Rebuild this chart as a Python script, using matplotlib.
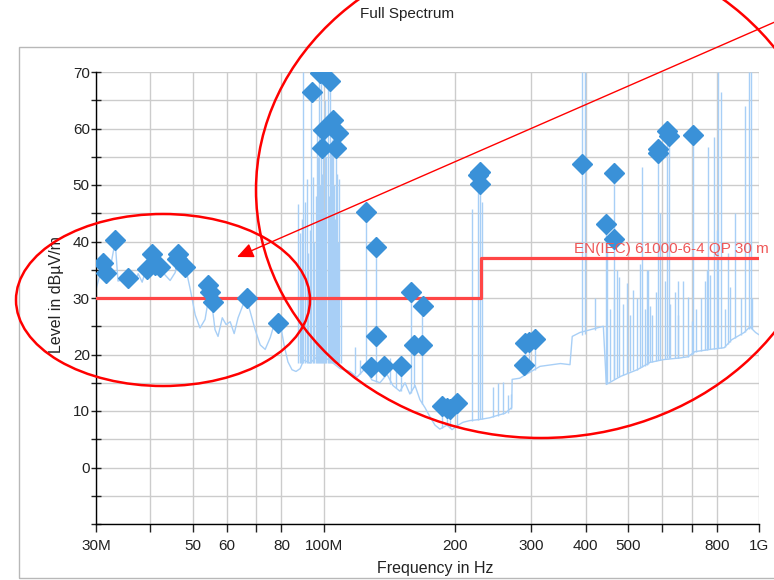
import matplotlib
matplotlib.use("Agg")
import matplotlib.pyplot as plt
from matplotlib.patches import Ellipse, FancyArrowPatch, Rectangle
from matplotlib.ticker import NullLocator

plt.rcParams['font.family'] = ['Liberation Sans', 'DejaVu Sans']

# spectrum floor (MHz, dBuV/m)
floor_f = [30.0, 30.6, 31.1, 31.6, 32.3, 33.2, 33.7, 34.4, 35.0, 35.9, 36.9, 37.5, 38.3, 38.9,
           39.5, 40.4, 41.2, 42.1, 43.2, 44.4, 45.6, 46.3, 47.6, 48.3, 49.4, 50.7, 52.0, 53.4,
           54.3, 55.4, 56.3, 57.2, 58.5, 59.7, 61.0, 62.3, 63.6, 65.3, 66.3, 67.8, 69.6, 71.5,
           73.4, 75.4, 77.3, 79.4, 81.1, 82.8, 84.6, 86.4, 88.3, 90.0, 93.0, 98.0, 103.0, 109.1,
           115.0, 119.3, 124.5, 129.1, 134.7, 139.8, 144.3, 149.7, 153.8, 157.8, 162.2, 166.4,
           170.9, 175.4, 180.2, 184.9, 192.0, 197.2, 203.6, 209.0, 216.6, 228.4, 240.7, 250.2,
           261.0, 270.4, 271.0, 282.0, 314.0, 350.0, 368.0, 372.4, 388.0, 439.0, 446.0, 480.0,
           525.0, 562.0, 604.0, 660.0, 687.0, 712.0, 772.0, 832.0, 865.0, 925.0, 953.0, 982.0,
           1000.0]
floor_l = [31.5, 34.0, 36.0, 34.2, 35.0, 40.0, 33.0, 33.2, 32.7, 34.1, 33.0, 34.3, 32.8, 34.6,
           35.2, 37.5, 35.0, 35.5, 34.1, 33.1, 34.5, 37.4, 36.4, 35.0, 31.5, 27.0, 24.7, 26.2,
           29.5, 28.8, 24.4, 23.2, 26.5, 25.3, 25.8, 23.7, 26.5, 28.8, 30.0, 27.6, 24.4, 21.7,
           20.9, 23.0, 25.8, 25.8, 21.7, 18.7, 17.3, 17.0, 17.5, 19.0, 18.5, 20.0, 19.0, 17.5,
           17.0, 16.0, 17.5, 15.5, 15.0, 16.5, 14.5, 13.5, 15.0, 13.0, 14.5, 12.0,
           10.6, 9.0, 7.5, 6.8, 7.5, 6.7, 7.5, 8.0, 8.3, 8.5, 8.8, 9.2,
           9.6, 10.6, 15.6, 15.8, 17.9, 18.4, 18.2, 23.2, 23.9, 25.0, 14.7, 16.1,
           17.3, 18.6, 19.1, 19.4, 19.6, 20.5, 20.9, 21.2, 22.6, 23.9, 24.9, 23.9,
           23.5]

# narrowband spikes (MHz, top, bottom), grouped by band
spikes_a_f = [87.3, 88.3, 88.8, 89.2, 89.7, 90.6, 91.6, 92.0, 93.0, 93.5, 94.5, 95.0, 95.8,
              96.5, 97.0, 97.6, 98.0, 98.6, 99.2, 99.7, 100.2, 100.7, 101.5, 102.3, 103.0,
              103.4, 104.0, 104.5, 105.1, 105.8, 106.2, 106.8, 107.3, 107.8, 108.5, 109.5]
spikes_a_top = [46.7, 41.5, 35.0, 44.0, 70.0, 47.0, 51.0, 38.0, 42.0, 66.5, 51.5, 40.0, 48.0,
                59.0, 55.0, 70.0, 50.0, 70.0, 52.0, 59.6, 45.0, 65.0, 55.0, 70.0, 48.0,
                68.4, 56.0, 58.0, 61.5, 50.0, 44.0, 56.6, 52.0, 40.0, 51.0, 30.0]
spikes_a_bot = [18.5] * len(spikes_a_f)

spikes_b_f = [118.0, 121.0, 125.0, 128.4, 131.7, 137.4, 142.0, 147.0, 150.3, 158.6, 161.1, 168.3]
spikes_b_top = [21.4, 19.0, 45.3, 17.7, 39.1, 17.9, 19.4, 17.6, 18.0, 31.1, 21.6, 28.6]
spikes_b_bot = [16.5, 16.5, 17.0, 15.8, 15.2, 16.0, 14.8, 14.0, 13.6, 13.2, 14.2, 11.2]

spikes_c_f = [187.2, 192.0, 195.3, 202.5, 219.0, 226.0, 228.6, 231.0, 245.0, 251.5, 258.0,
              264.5, 270.0, 288.0, 290.0, 297.0, 305.8]
spikes_c_top = [10.8, 10.6, 10.3, 11.5, 45.8, 51.8, 52.3, 47.0, 14.3, 15.0, 15.2,
                12.9, 13.0, 18.2, 22.1, 22.3, 22.8]
spikes_c_bot = [7.0, 7.5, 7.0, 7.4, 8.3, 8.4, 8.5, 8.5, 9.0, 9.2, 9.4,
                9.7, 10.4, 16.5, 16.5, 17.0, 17.2]

spikes_d_f = [392.0, 398.5, 420.0, 446.0, 447.7, 454.8, 464.5, 465.0, 471.9, 477.0, 487.0,
              498.0, 505.0, 514.0, 524.0, 534.0, 539.0, 547.0, 553.0, 556.0, 562.0, 568.0,
              580.0, 587.0, 593.7, 608.0, 615.0, 620.0, 624.0, 641.0, 650.0, 651.0, 669.0,
              687.0, 701.0, 705.0, 717.0, 734.0, 752.0, 760.0, 765.0, 772.0, 788.0, 801.0,
              805.0, 816.0, 835.0, 849.0, 858.0, 881.0, 907.0, 929.0, 949.0, 959.0, 963.0]
spikes_d_top = [70.0, 70.0, 30.0, 43.1, 40.0, 28.0, 30.0, 52.1, 35.0, 33.8, 29.0,
                32.7, 27.0, 31.5, 30.0, 36.0, 53.2, 28.0, 35.0, 35.0, 28.5, 27.0,
                31.0, 56.3, 45.0, 33.0, 59.6, 58.7, 29.0, 31.0, 33.0, 27.0, 33.0,
                30.2, 26.0, 58.9, 28.0, 30.0, 33.0, 35.0, 56.8, 34.0, 58.5, 42.0,
                70.0, 66.5, 28.0, 38.0, 32.0, 45.0, 30.0, 64.0, 70.0, 70.0, 30.0]
spikes_d_bot = [23.5, 23.7, 24.3, 15.0, 15.0, 15.3, 15.7, 15.7, 16.0, 16.1, 16.4,
                16.8, 17.0, 17.2, 17.3, 17.6, 17.8, 18.0, 18.2, 18.3, 18.6, 18.7,
                18.9, 19.0, 19.1, 19.2, 19.3, 19.3, 19.3, 19.4, 19.4, 19.4, 19.5,
                19.6, 20.0, 20.1, 20.5, 20.6, 20.8, 20.8, 20.9, 20.9, 21.0, 21.0,
                21.1, 21.1, 21.3, 21.8, 22.3, 23.0, 23.4, 23.9, 24.5, 24.7, 24.5]

# final measurement peaks
peak_f = [31.1, 31.6, 33.1, 35.5, 39.3, 40.3, 41.0, 42.1, 46.0, 46.3, 48.0, 54.2, 54.7, 55.7,
          66.7, 78.5, 94.0, 98.2, 99.0, 99.8, 103.5, 105.1, 106.7, 108.0, 125.0, 128.4,
          131.7, 131.7, 137.4, 150.3, 158.6, 161.1, 168.3, 169.2, 187.2, 192.0, 195.3,
          202.5, 226.0, 228.6, 228.6, 288.0, 290.0, 297.0, 305.8, 392.5, 446.0, 465.0,
          465.0, 587.0, 587.0, 615.0, 620.0, 705.0]
peak_l = [36.2, 34.4, 40.3, 33.6, 35.2, 37.8, 35.9, 35.5, 36.9, 37.7, 35.5, 32.3, 31.1, 29.3,
          30.0, 25.6, 66.5, 69.8, 56.6, 59.7, 68.4, 61.5, 56.6, 59.2, 45.3, 17.7,
          39.1, 23.2, 17.9, 18.0, 31.1, 21.6, 21.7, 28.6, 10.8, 10.6, 10.3,
          11.5, 51.8, 52.3, 50.2, 18.2, 22.1, 22.3, 22.8, 53.7, 43.1, 52.1,
          40.5, 55.7, 56.3, 59.6, 58.7, 58.9]

limit_f = [30, 230, 230, 1000]
limit_l = [30, 30, 37, 37]
limit_name = "EN(IEC) 61000-6-4 QP 30 m"

W, H = 774, 580


def px(x, y):
    return x / W, 1 - y / H


fig = plt.figure(figsize=(W / 100, H / 100), dpi=100)
ax = fig.add_axes([96 / W, 1 - 524 / H, (759 - 96) / W, (524 - 72) / H])

# frame around the plot
fig.add_artist(Rectangle(px(19, 578), 800 / W, (578 - 47) / H, transform=fig.transFigure,
                         fill=False, edgecolor='#b8b8b8', lw=1))

trace = '#a8cff6'
ax.plot(floor_f, floor_l, color=trace, lw=1, zorder=2)
for sf, st, sb in [(spikes_a_f, spikes_a_top, spikes_a_bot),
                   (spikes_b_f, spikes_b_top, spikes_b_bot),
                   (spikes_c_f, spikes_c_top, spikes_c_bot),
                   (spikes_d_f, spikes_d_top, spikes_d_bot)]:
    ax.vlines(sf, sb, st, color=trace, lw=1, zorder=2)
ax.plot(limit_f, limit_l, color='#ff4646', lw=2.3, zorder=3)
ax.plot(peak_f, peak_l, 'D', color='#3a91d8', ms=10, mec='#3a91d8', ls='none', zorder=4)
ax.text(376, 37.35, limit_name, color='#ef5757', fontsize=11, ha='left', va='bottom',
        clip_on=False, zorder=5)

ax.set_xscale('log')
ax.set_xlim(30, 1000)
ax.set_ylim(-10, 70)
xt = [30, 40, 50, 60, 70, 80, 100, 200, 300, 400, 500, 600, 700, 800, 1000]
xl = ['30M', '', '50', '60', '', '80', '100M', '200', '300', '400', '500', '', '', '800', '1G']
ax.set_xticks(xt)
ax.set_xticklabels(xl)
ax.xaxis.set_minor_locator(NullLocator())
yt = list(range(-10, 75, 5))
ax.set_yticks(yt)
ax.set_yticklabels([str(v) if v >= 0 and v % 10 == 0 else '' for v in yt])
ax.tick_params(axis='x', direction='out', length=6, width=1, pad=5, labelsize=11,
               colors='#222222')
ax.tick_params(axis='y', direction='inout', length=7, width=1, pad=1, labelsize=11,
               colors='#222222')
ax.grid(True, color='#cccccc', lw=1)
ax.set_axisbelow(True)
for s in ['top', 'right']:
    ax.spines[s].set_visible(False)
for s in ['left', 'bottom']:
    ax.spines[s].set_color('black')
    ax.spines[s].set_linewidth(1)

fig.text(*px(407, 14), 'Full Spectrum', ha='center', va='center', fontsize=11, color='#222222')
fig.text(*px(57, 295), 'Level in dB\u00b5V/m', rotation=90, ha='center', va='center',
         fontsize=11.5, color='#222222')
fig.text(*px(435, 569), 'Frequency in Hz', ha='center', va='center', fontsize=11.5,
         color='#222222')

# annotations
fig.add_artist(Ellipse(px(541, 190), 570 / W, 496 / H, transform=fig.transFigure,
                       fill=False, edgecolor='red', lw=1.8, zorder=10))
fig.add_artist(Ellipse(px(163, 300), 294 / W, 172 / H, transform=fig.transFigure,
                       fill=False, edgecolor='red', lw=1.8, zorder=10))
fig.add_artist(FancyArrowPatch(px(800, 11), px(237, 257), transform=fig.transFigure,
                               arrowstyle='-|>,head_length=10,head_width=4.5', mutation_scale=1,
                               color='red', lw=1, shrinkA=0, shrinkB=0, zorder=10))

fig.savefig('out.png', dpi=100)
